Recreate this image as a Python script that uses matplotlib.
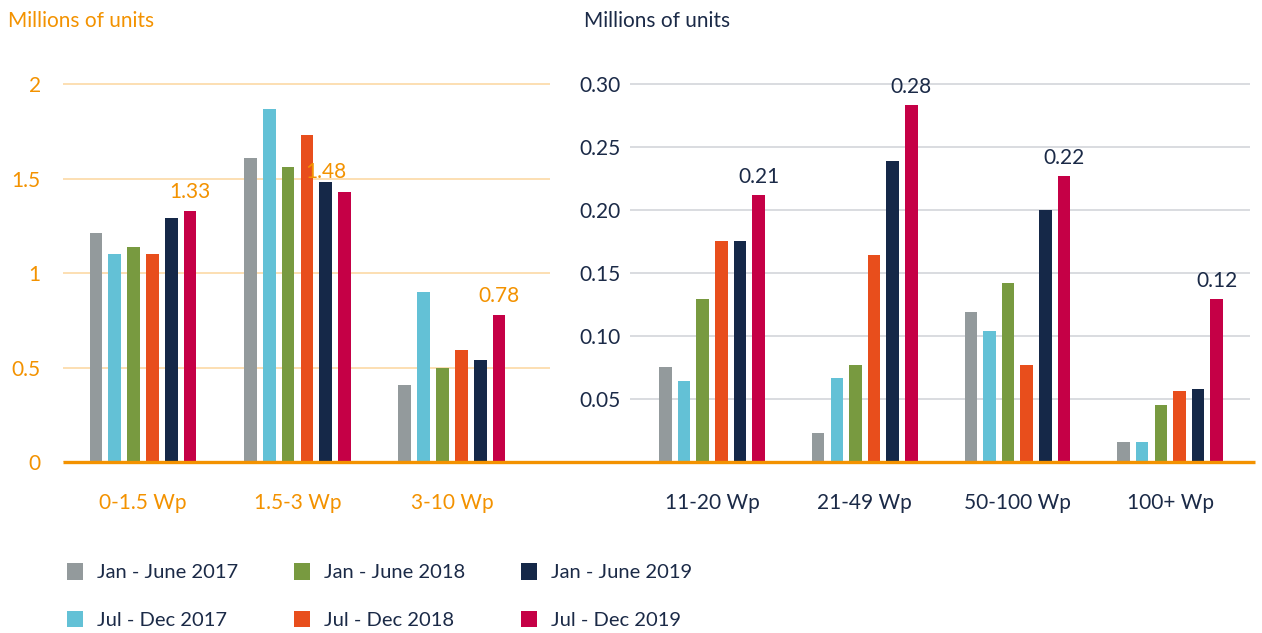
import matplotlib
matplotlib.use('Agg')
import matplotlib.pyplot as plt
from matplotlib.lines import Line2D
import numpy as np

# Data
series = ["Jan - June 2017", "Jul - Dec 2017", "Jan - June 2018",
          "Jul - Dec 2018", "Jan - June 2019", "Jul - Dec 2019"]
colors = ['#939A9C', '#63C1D6', '#789A40', '#E84E1C', '#152848', '#C50046']

small_cats = ["0-1.5 Wp", "1.5-3 Wp", "3-10 Wp"]
small_vals = [
    [1.21, 1.61, 0.41],
    [1.10, 1.87, 0.90],
    [1.14, 1.56, 0.50],
    [1.10, 1.73, 0.59],
    [1.29, 1.48, 0.54],
    [1.33, 1.43, 0.78],
]
small_ticks = [0, 0.5, 1, 1.5, 2]
small_ticklabels = ["0", "0.5", "1", "1.5", "2"]

large_cats = ["11-20 Wp", "21-49 Wp", "50-100 Wp", "100+ Wp"]
large_vals = [
    [0.075, 0.023, 0.119, 0.016],
    [0.064, 0.067, 0.104, 0.016],
    [0.129, 0.077, 0.142, 0.045],
    [0.175, 0.164, 0.077, 0.056],
    [0.175, 0.239, 0.200, 0.058],
    [0.212, 0.283, 0.227, 0.129],
]
large_ticks = [0.05, 0.10, 0.15, 0.20, 0.25, 0.30]
large_ticklabels = ["0.05", "0.10", "0.15", "0.20", "0.25", "0.30"]

# value labels: (group, series index, text, gap in points)
small_labels = [(0, 5, "1.33", 6), (1, 4, "1.48", 0), (2, 5, "0.78", 6)]
large_labels = [(0, 5, "0.21", 6), (1, 5, "0.28", 6), (2, 5, "0.22", 6), (3, 5, "0.12", 6)]

ORANGE = '#F39200'
NAVY = '#1B2A47'
FONT = 'Lato'
FS = 15

W, H = 1262, 633
fig = plt.figure(figsize=(W / 100, H / 100), dpi=100, facecolor='white')


def px_axes(x0, x1, y0, y1):
    return fig.add_axes([x0 / W, 1 - y1 / H, (x1 - x0) / W, (y1 - y0) / H])


def draw_panel(ax, cats, vals, ylim, ticks, ticklabels, xlim, txt_color, grid_color,
               labels, ypad):
    step, width = 0.122, 0.082
    x = np.arange(len(cats))
    bars = []
    for i, (v, c) in enumerate(zip(vals, colors)):
        b = ax.bar(x + (i - 2.5) * step, v, width=width, color=c, zorder=2,
                   label=series[i])
        bars.append(b)
    ax.set_xlim(*xlim)
    ax.set_ylim(*ylim)
    for s in ax.spines.values():
        s.set_visible(False)
    ax.set_yticks(ticks)
    ax.set_yticklabels(ticklabels, fontsize=FS, color=txt_color, fontfamily=FONT)
    for t in ax.get_yticklabels():
        t.set_verticalalignment('center_baseline')
    ax.set_xticks(x)
    ax.set_xticklabels(cats, fontsize=FS, color=txt_color, fontfamily=FONT)
    ax.tick_params(axis='y', length=0, pad=ypad)
    ax.tick_params(axis='x', length=0, pad=22)
    ax.yaxis.grid(True, color=grid_color, lw=1.2, zorder=0)
    ax.set_axisbelow(True)
    for g, si, txt, gap in labels:
        ax.annotate(txt, (x[g] + (si - 2.5) * step, vals[si][g]),
                    xytext=(0, gap), textcoords='offset points',
                    ha='center', va='bottom', fontsize=FS, color=txt_color,
                    fontfamily=FONT)
    return bars


# Left panel (small systems)
ax1 = px_axes(63, 550, 60, 462)
bars = draw_panel(ax1, small_cats, small_vals, (0, 2.127), small_ticks, small_ticklabels,
                  (-0.518, 2.635), ORANGE, '#FCD9A6', small_labels, 16)

# Right panel (larger systems)
ax2 = px_axes(630, 1250, 60, 462)
draw_panel(ax2, large_cats, large_vals, (0, 0.319), large_ticks, large_ticklabels,
           (-0.537, 3.523), NAVY, '#D3D6DA', large_labels, 7)

# Orange baseline across both panels
fig.add_artist(Line2D([63 / W, 1255 / W], [1 - 462 / H, 1 - 462 / H],
                      color=ORANGE, lw=2.4, solid_capstyle='butt'))

fig.text(8 / W, 1 - 21 / H, "Millions of units", color=ORANGE, fontsize=FS,
         fontfamily=FONT, va='center', ha='left')
fig.text(584 / W, 1 - 21 / H, "Millions of units", color=NAVY, fontsize=FS,
         fontfamily=FONT, va='center', ha='left')

leg = fig.legend(handles=[b[0] for b in bars], labels=series, ncol=3,
                 loc='upper left', bbox_to_anchor=(59 / W, 1 - 555 / H),
                 borderaxespad=0, borderpad=0.4,
                 frameon=False, handlelength=0.8, handleheight=0.9,
                 handletextpad=0.7, columnspacing=2.75, labelspacing=1.45,
                 prop={'family': FONT, 'size': 14.5})
for t in leg.get_texts():
    t.set_color(NAVY)

fig.savefig("out.png", dpi=100, facecolor='white')
